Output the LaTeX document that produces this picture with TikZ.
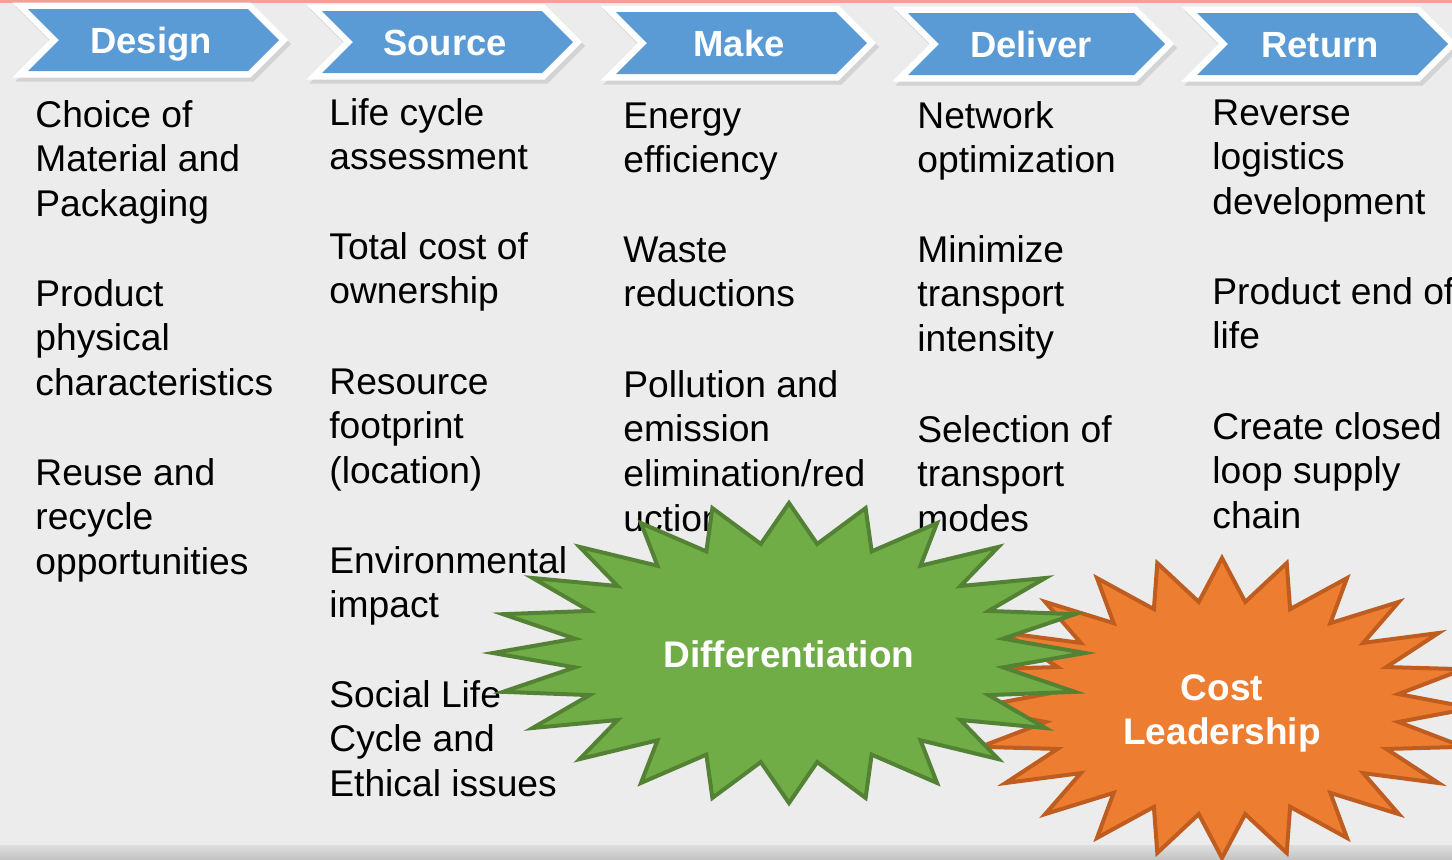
\documentclass[tikz,border=0pt]{standalone}
\usepackage{fontspec}
\setmainfont{Liberation Sans}
\usetikzlibrary{positioning}

\definecolor{slidebg}{HTML}{ECECEC}
\definecolor{chevblue}{HTML}{5B9BD5}
\definecolor{difgreen}{HTML}{70AD47}
\definecolor{difedge}{HTML}{548235}
\definecolor{costorange}{HTML}{ED7D31}
\definecolor{costedge}{HTML}{BE5D1F}
\definecolor{topline}{HTML}{F1A197}

\begin{document}
\begin{tikzpicture}[
  x=0.5pt, y=-0.5pt,
  item/.style={font=\fontsize{18.6}{22.4}\selectfont, align=left, anchor=base west, inner sep=0pt},
  phase/.style={font=\fontsize{18.2}{22}\selectfont\bfseries, text=white, anchor=base, inner sep=0pt},
  chevron/.style={fill=chevblue},
  chevrim/.style={draw=white, fill=white, line width=6.5pt, line join=miter},
  chevshade/.style={draw=black!25, fill=black!25, line width=6.5pt, line join=miter, opacity=.55},
  burst/.style={line width=2pt, line join=miter, miter limit=30},
  bursttext/.style={font=\fontsize{18.5}{22}\selectfont\bfseries, text=white, align=center, inner sep=0pt}
]
% slide background
\fill[slidebg] (0,0) rectangle (1452,859);
\useasboundingbox (0,0) rectangle (1452,859);
\fill[topline] (0,0) rectangle (1452,2.5);
\shade[top color=black!13, bottom color=black!23] (0,845) rectangle (1452,859);

% phase chevrons
\foreach \l/\m/\w/\t/\n in {28/40/220/Design/design, 322/42/220/Source/source,
    616/43/220/Make/make, 908/44/226/Deliver/deliver, 1197/44/220/Return/return}{
  \path[chevshade, shift={(3,4)}] (\l,\m-31) -- (\l+\w,\m-31) -- (\l+\w+31,\m) -- (\l+\w,\m+31) -- (\l,\m+31) -- (\l+31,\m) -- cycle;
  \path[chevrim] (\l,\m-31) -- (\l+\w,\m-31) -- (\l+\w+31,\m) -- (\l+\w,\m+31) -- (\l,\m+31) -- (\l+31,\m) -- cycle;
  \path[chevron] (\l,\m-31) -- (\l+\w,\m-31) -- (\l+\w+31,\m) -- (\l+\w,\m+31) -- (\l,\m+31) -- (\l+31,\m) -- cycle;
  \node[phase] (\n) at (\l+123,\m+13) {\t};
}

% Design (nodes sit on the baseline of their last line)
\node[item] (choice) at (35,216.6) {Choice of\\Material and\\Packaging};
\node[item] (physical) at (35,395.6) {Product\\physical\\characteristics};
\node[item] (reuse) at (35,574.6) {Reuse and\\recycle\\opportunities};

% Source
\node[item] (lca) at (329,169.8) {Life cycle\\assessment};
\node[item] (tco) at (329,303.8) {Total cost of\\ownership};
\node[item] (footprint) at (329,483.6) {Resource\\footprint\\(location)};
\node[item] (envimpact) at (329,617.8) {Environmental\\impact};
\node[item] (social) at (329,796.6) {Social Life\\Cycle and\\Ethical issues};

% Make
\node[item] (energy) at (623,172.8) {Energy\\efficiency};
\node[item] (waste) at (623,306.8) {Waste\\reductions};
\node[item] (pollution) at (623,531.4) {Pollution and\\emission\\elimination/red\\uction};

% Deliver
\node[item] (network) at (917,172.8) {Network\\optimization};
\node[item] (transport) at (917,351.6) {Minimize\\transport\\intensity};
\node[item] (modes) at (917,531.6) {Selection of\\transport\\modes};

% Return
\node[item] (reverse) at (1212,214.6) {Reverse\\logistics\\development};
\node[item] (endoflife) at (1212,348.8) {Product end of\\life};
\node[item] (closedloop) at (1212,528.6) {Create closed\\loop supply\\chain};

% strategy bursts
\begin{scope}[shift={(1222,708)}]
  \draw[burst, fill=costorange, draw=costedge] (90:250 and 150)
    \foreach \k in {1,...,24}{ -- ({90+15*\k-7.5}:178 and 107) -- ({90+15*\k}:250 and 150)} -- cycle;
  \node[bursttext] (cost) at (0,5) {Cost\\Leadership};
\end{scope}
\begin{scope}[shift={(789,653)}]
  \draw[burst, fill=difgreen, draw=difedge] (90:296 and 150)
    \foreach \k in {1,...,24}{ -- ({90+15*\k-7.5}:216 and 110) -- ({90+15*\k}:296 and 150)} -- cycle;
  \node[bursttext] (diff) at (0,1) {Differentiation};
\end{scope}
\end{tikzpicture}
\end{document}
